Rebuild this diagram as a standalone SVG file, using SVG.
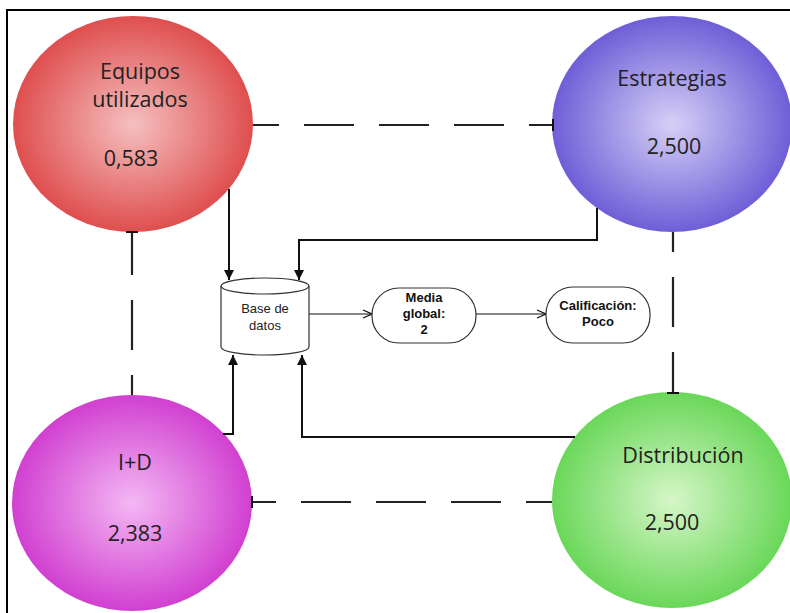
<svg xmlns="http://www.w3.org/2000/svg" width="790" height="613" viewBox="0 0 790 613">
<defs>
<radialGradient id="gr" cx="50%" cy="50%" r="52%"><stop offset="0" stop-color="#f5c0c0"/><stop offset="1" stop-color="#de4a4a"/></radialGradient>
<radialGradient id="gb" cx="50%" cy="50%" r="52%"><stop offset="0" stop-color="#d6d0f6"/><stop offset="1" stop-color="#6a5ad6"/></radialGradient>
<radialGradient id="gm" cx="50%" cy="50%" r="52%"><stop offset="0" stop-color="#f4b8f4"/><stop offset="1" stop-color="#cf3bcf"/></radialGradient>
<radialGradient id="gg" cx="50%" cy="50%" r="52%"><stop offset="0" stop-color="#d6f6c8"/><stop offset="1" stop-color="#66d655"/></radialGradient>
<marker id="ah" viewBox="0 0 10 10" refX="10" refY="5" markerWidth="10" markerHeight="10" markerUnits="userSpaceOnUse" orient="auto"><path d="M0,0 L10,5 L0,10 z" fill="#111"/></marker>
<marker id="oa" viewBox="0 0 10 10" refX="10" refY="5" markerWidth="10" markerHeight="10" markerUnits="userSpaceOnUse" orient="auto"><path d="M1,1 L10,5 L1,9" fill="none" stroke="#111" stroke-width="1.3"/></marker>
<marker id="tb" viewBox="0 0 4 12" refX="2" refY="6" markerWidth="4" markerHeight="12" markerUnits="userSpaceOnUse" orient="auto"><path d="M2,0 L2,12" stroke="#111" stroke-width="2"/></marker>
</defs>
<style>
.big{font-family:"Open Sans","Liberation Sans",sans-serif;font-size:21.5px;fill:#222;text-anchor:middle}
.sm{font-family:"Liberation Sans",Arial,sans-serif;font-size:13px;fill:#222;text-anchor:middle}
.bd{font-family:"Liberation Sans",Arial,sans-serif;font-size:13px;font-weight:bold;fill:#111;text-anchor:middle}
.dash{fill:none;stroke:#222;stroke-width:2.2;stroke-dasharray:50 25}
.ln{fill:none;stroke:#111;stroke-width:2}
.thin{fill:none;stroke:#111;stroke-width:1.2}
.box{fill:#fff;stroke:#333;stroke-width:1.2}
</style>
<rect x="0" y="0" width="790" height="613" fill="#fff"/>
<rect x="7" y="10" width="800" height="620" fill="none" stroke="#000" stroke-width="2"/>
<g id="equipos">
<ellipse cx="133" cy="124" rx="120" ry="108" fill="url(#gr)"/>
<text class="big" x="140" y="79">Equipos</text>
<text class="big" x="140" y="107">utilizados</text>
<text class="big" x="131" y="166">0,583</text>
</g>
<g id="estrategias">
<ellipse cx="672" cy="124" rx="120" ry="108" fill="url(#gb)"/>
<text class="big" x="672" y="86">Estrategias</text>
<text class="big" x="674" y="154">2,500</text>
</g>
<g id="imasd">
<ellipse cx="132" cy="503" rx="120" ry="108" fill="url(#gm)"/>
<text class="big" x="135" y="470">I+D</text>
<text class="big" x="135" y="541">2,383</text>
</g>
<g id="distribucion">
<ellipse cx="672" cy="500" rx="120" ry="108" fill="url(#gg)"/>
<text class="big" x="683" y="463">Distribución</text>
<text class="big" x="672" y="530">2,500</text>
</g>
<g id="connectors">
<path class="dash" d="M253,125 L553,125" marker-end="url(#tb)" stroke-dashoffset="24"/>
<path class="dash" d="M673,232 L673,393" marker-end="url(#tb)" stroke-dashoffset="30"/>
<path class="dash" d="M552,502 L252,502" marker-end="url(#tb)" stroke-dashoffset="24"/>
<path class="dash" d="M132,395 L132,232" marker-end="url(#tb)" stroke-dashoffset="30"/>
<path class="ln" d="M229,189 L229,280" marker-end="url(#ah)"/>
<path class="ln" d="M597,208 L597,240 L299,240 L299,280" marker-end="url(#ah)"/>
<path class="ln" d="M223,434 L233,434 L233,355" marker-end="url(#ah)"/>
<path class="ln" d="M575,437 L302,437 L302,355" marker-end="url(#ah)"/>
<path class="thin" d="M309,314 L372,314" marker-end="url(#oa)"/>
<path class="thin" d="M476,314 L546,314" marker-end="url(#oa)"/>
</g>
<g id="base">
<path class="box" d="M221,286 A44,8 0 0 1 309,286 L309,347 A44,8 0 0 1 221,347 Z"/>
<path class="box" d="M221,286 A44,8 0 0 0 309,286" fill="none"/>
<text class="sm" x="265" y="313">Base de</text>
<text class="sm" x="265" y="330">datos</text>
</g>
<g id="media">
<rect class="box" x="372" y="288" width="104" height="55" rx="27" ry="27"/>
<text class="bd" x="424" y="302">Media</text>
<text class="bd" x="424" y="318">global:</text>
<text class="bd" x="424" y="334">2</text>
</g>
<g id="calif">
<rect class="box" x="546" y="287" width="104" height="56" rx="27" ry="27"/>
<text class="bd" x="598" y="310">Calificación:</text>
<text class="bd" x="598" y="326">Poco</text>
</g>
</svg>
